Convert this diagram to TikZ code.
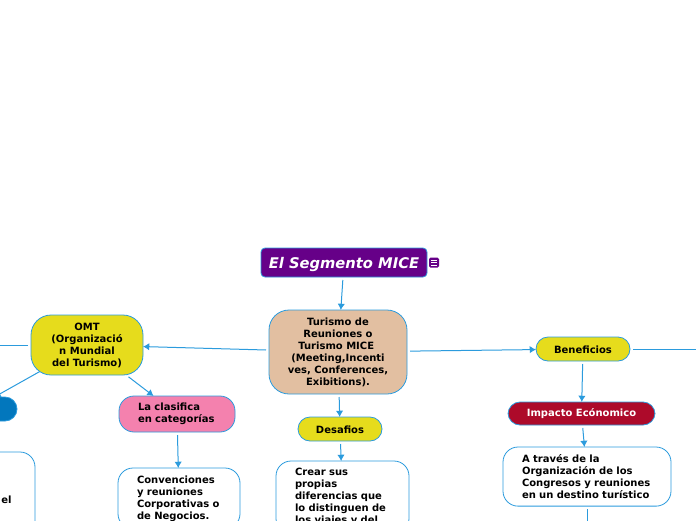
\documentclass[tikz,border=0pt]{standalone}
\usepackage{fontspec}
\setmainfont{DejaVu Sans}
\usetikzlibrary{arrows.meta,positioning}
\definecolor{MapBlue}{RGB}{43,155,221}
\definecolor{MapYellow}{RGB}{230,220,28}
\definecolor{MapPurple}{RGB}{102,0,136}
\definecolor{MapSand}{RGB}{226,191,161}
\definecolor{MapPink}{RGB}{244,129,174}
\definecolor{MapRed}{RGB}{173,10,42}
\definecolor{MapDeep}{RGB}{2,119,189}

\begin{document}
\begin{tikzpicture}[x=1pt,y=-1pt, every node/.style={font=\fontsize{10}{12}\selectfont\bfseries,outer sep=0pt},
b/.style={draw=MapBlue,thick,rounded corners=15pt,align=center,inner sep=0pt},
w/.style={b,fill=white,align=left,inner xsep=19pt,inner ysep=7.5pt},
con/.style={-{Latex[length=2.2mm,width=2.6mm]},draw=MapBlue,line width=1pt,shorten <=3pt}]
\path[use as bounding box,clip] (0,0) rectangle (696,520);
\node[b,fill=MapPurple,text=white,rounded corners=4pt,minimum width=166pt,minimum height=29pt,text height=11pt,text depth=0pt,font=\fontsize{14.7}{16}\selectfont\bfseries\itshape] (title) at (344,262.5) {El Segmento MICE};
\node[fill=MapPurple,rounded corners=1.5pt,minimum width=10pt,minimum height=10pt,right=2pt of title] (noteicon) {};
\foreach \dy in {-2.5,0,2.5}
  \draw[white,line width=.8pt] ([xshift=-3pt,yshift=\dy pt]noteicon.center) -- ([xshift=3pt,yshift=\dy pt]noteicon.center);
\node[b,fill=MapSand,rounded corners=20pt,minimum width=138pt,minimum height=84pt,below=33pt of title,xshift=-6pt] (mice) {Turismo de~\\Reuniones o~\\Turismo MICE~~\\(Meeting,Incenti\\ves, Conferences,\\Exibitions).};
\node[b,fill=MapYellow,rounded corners=20pt,minimum width=112pt,minimum height=60pt,left=126pt of mice,yshift=7pt] (omt) {OMT~\\(Organizació\\n Mundial~\\del Turismo)};
\node[b,fill=MapDeep,rounded corners=12pt,minimum width=88pt,minimum height=24pt,below=22pt of omt,xshift=-114pt] (azul) {};
\node[w,text width=106pt,minimum height=90pt,below=31pt of azul,xshift=-10pt] (nota) {};
\node[inner sep=0pt,anchor=east] (elword) at (11.5,500) {el};
\node[b,fill=MapPink,text width=78pt,align=left,inner xsep=19pt,minimum height=36pt,below=21pt of omt,xshift=90pt] (clasifica) {La clasifica\\en categorías};
\node[w,text width=84pt,below=36pt of clasifica,xshift=2pt] (convenciones) {Convenciones\\y reuniones\\Corporativas o\\de Negocios.};
\node[b,fill=MapYellow,rounded corners=12pt,minimum width=84pt,minimum height=24pt,text height=9pt,text depth=0pt,below=23pt of mice,xshift=2pt] (desafios) {Desafios};
\node[w,text width=95pt,below=20pt of desafios,xshift=2.5pt] (crear) {Crear sus\\propias\\diferencias que\\lo distinguen de\\los viajes y del};
\node[b,fill=MapYellow,rounded corners=12pt,minimum width=94pt,minimum height=24pt,text height=9pt,text depth=0pt,right=129pt of mice,yshift=3pt] (beneficios) {Beneficios};
\node[b,fill=MapRed,text=white,rounded corners=12pt,minimum width=147pt,minimum height=23pt,below=41pt of beneficios,xshift=-1.5pt] (impacto) {Impacto Ecónomico};
\node[w,text width=130pt,below=22pt of impacto,xshift=5.5pt] (traves) {A través de la\\Organización de los\\Congresos y reuniones\\en un destino turístico};
\coordinate[left=60pt of omt] (omtout);
\coordinate[right=100pt of beneficios] (benout);
\coordinate[below=40pt of traves] (travesout);
\draw[con] (title)--(mice);
\draw[con] (mice)--(omt);
\draw[con] (mice)--(beneficios);
\draw[con] (mice)--(desafios);
\draw[con] (desafios)--(crear);
\draw[con] (omt)--(clasifica);
\draw[con,shorten <=-7pt] (omt)--(azul);
\draw[con] (omt)--(omtout);
\draw[con] (clasifica)--(convenciones);
\draw[con] (beneficios)--(impacto);
\draw[con] (beneficios)--(benout);
\draw[con] (impacto)--(traves);
\draw[con] (traves)--(travesout);
\end{tikzpicture}
\end{document}
